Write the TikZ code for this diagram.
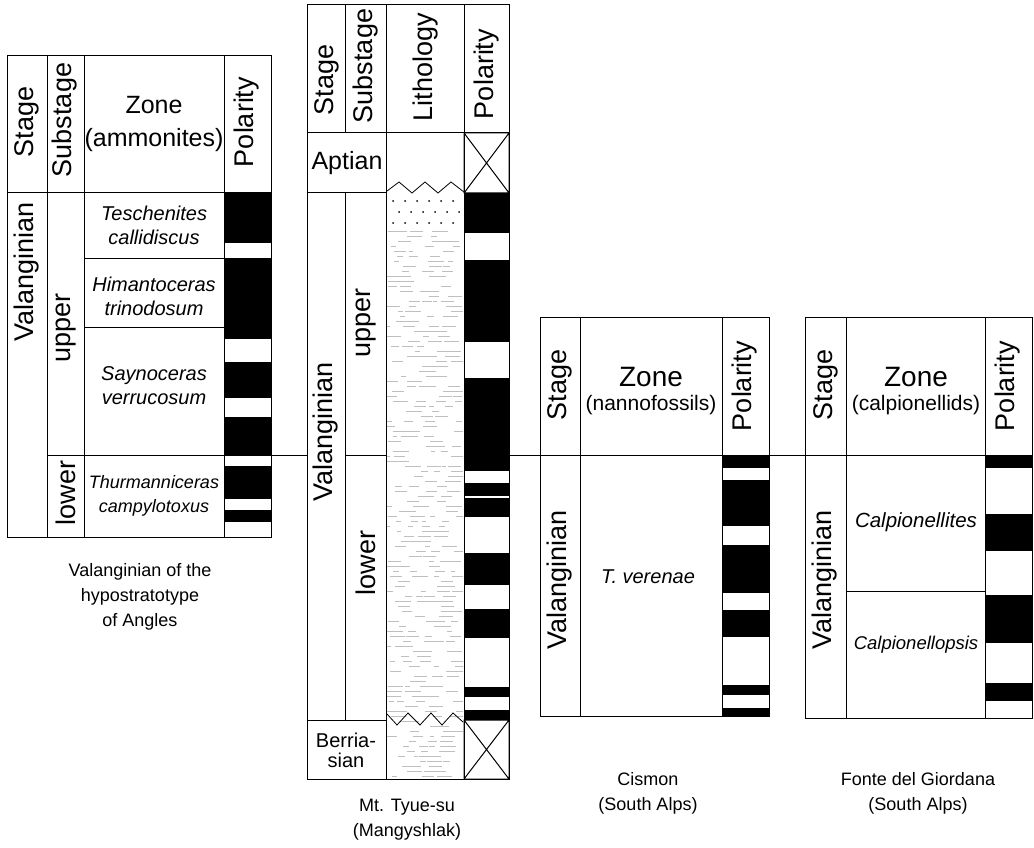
\documentclass[tikz,border=0pt]{standalone}
\usepackage{fontspec}
\setmainfont{Liberation Sans}
\usetikzlibrary{calc}

\begin{document}
\begin{tikzpicture}[x=1pt, y=-1pt,
    rule/.style={line width=1pt},
    vert/.style={font=\fontsize{27}{29}\selectfont, rotate=90, inner sep=0pt},
    zonetxt/.style={font=\fontsize{25}{27}\selectfont, inner sep=0pt},
    zonebig/.style={font=\fontsize{28}{30}\selectfont, inner sep=0pt},
    subtxt/.style={font=\fontsize{21}{23}\selectfont, inner sep=0pt},
    taxon/.style={font=\fontsize{20}{24}\selectfont\itshape, align=center, inner sep=0pt},
    captxt/.style={font=\fontsize{18}{25}\selectfont, align=center, inner sep=0pt},
    shale/.style={gray!50, line width=0.6pt}
]
\useasboundingbox (0,0) rectangle (1034,848);

% --- Angles (hypostratotype)
\foreach \a/\b in {193/243, 258/339, 362/398, 417/455, 466/499, 510/522}
    \fill (224,\a) rectangle (271,\b);
\draw[rule] (7,56) rectangle (271,537);
\draw[rule] (7,193) -- (271,193);
\foreach \x in {47,84,224} \draw[rule] (\x,56) -- (\x,537);
\draw[rule] (84,258) -- (224,258) (84,327) -- (224,327);

\node[vert] (angStage) at (27,122) {Stage};
\node[vert] (angSub) at (65,120) {Substage};
\node[zonetxt] (angZone) at (154,105) {Zone};
\node[zonetxt] (angZoneSub) at (154,140) {(ammonites)};
\node[vert] (angPol) at (247,122) {Polarity};
\node[vert] (angVal) at (27,272) {Valanginian};
\node[vert] (angUpper) at (66,328) {upper};
\node[vert] (angLower) at (66,493) {lower};
\node[taxon] (angTesch) at (154,225) {Teschenites\\callidiscus};
\node[taxon] (angHiman) at (154,296) {Himantoceras\\trinodosum};
\node[taxon] (angSayno) at (154,386) {Saynoceras\\verrucosum};
\node[taxon, font=\fontsize{18}{24}\selectfont\itshape] (angThurm) at (154,496) {Thurmanniceras\\campylotoxus};
\node[captxt] (angCap) at (140,597) {Valanginian of the\\hypostratotype\\of Angles};

% --- Mt. Tyue-su
\begin{scope}
\clip (387,229) rectangle (463,778);
\pgfmathsetseed{11}
\foreach \r in {0,...,109} {
    \foreach \k in {1,...,4} {
        \pgfmathsetmacro\xa{385+rnd*72}
        \pgfmathsetmacro\len{4+rnd*12}
        \draw[shale] (\xa,231+\r*5) -- ++(\len,0);
    }
}
\end{scope}
\foreach \yy/\s in {201/0, 212/6, 223/0}
    \foreach \xx in {393,405,...,457}
        \fill (\xx+\s,\yy) circle (1);
\draw[line width=0.8pt] (387,191) -- (399,182) -- (412,193) -- (425,182) -- (438,193) -- (451,182) -- (464,192);
\draw[line width=0.8pt] (387,714) -- (397,725) -- (408,713) -- (420,725) -- (431,713) -- (442,725) -- (453,713) -- (463,722);

\foreach \a/\b in {193/233, 260/342, 378/471, 483/496, 498/517, 553/585, 609/638, 687/697, 710/720}
    \fill (464,\a) rectangle (509,\b);
\draw[rule] (464,133) rectangle (509,193) (464,133) -- (509,193) (509,133) -- (464,193);
\draw[rule] (464,720) rectangle (509,779) (464,720) -- (509,779) (509,720) -- (464,779);
\draw[rule] (307,5) rectangle (509,779);
\draw[rule] (307,133) -- (509,133) (307,193) -- (386,193) (307,720) -- (386,720);
\draw[rule] (345,5) -- (345,133) (345,193) -- (345,720);
\foreach \x in {386,464} \draw[rule] (\x,5) -- (\x,779);

\node[vert] (tyuStage) at (327,80) {Stage};
\node[vert] (tyuSub) at (366,66) {Substage};
\node[vert] (tyuLith) at (426,67) {Lithology};
\node[vert] (tyuPol) at (487,74) {Polarity};
\node[zonetxt] (tyuApt) at (347,163) {Aptian};
\node[vert] (tyuVal) at (326,432) {Valanginian};
\node[vert] (tyuUpper) at (366,323) {upper};
\node[vert] (tyuLower) at (366,563) {lower};
\node[font=\fontsize{20}{20}\selectfont, align=center, inner sep=0pt] (tyuBer) at (346,750) {Berria-\\sian};
\node[captxt] (tyuCap) at (407,820) {Mt. Tyue-su\\(Mangyshlak)};

% --- Cismon
\foreach \a/\b in {455/468, 480/526, 545/593, 610/637, 685/695, 708/716}
    \fill (722,\a) rectangle (769,\b);
\draw[rule] (540,317) rectangle (769,716);
\foreach \x in {580,722} \draw[rule] (\x,317) -- (\x,716);

\node[vert] (cisStage) at (560,385) {Stage};
\node[zonebig] (cisZone) at (651,377) {Zone};
\node[subtxt] (cisZoneSub) at (651,405) {(nannofossils)};
\node[vert] (cisPol) at (745,386) {Polarity};
\node[vert] (cisVal) at (560,580) {Valanginian};
\node[taxon] (cisTax) at (648,577) {T. verenae};
\node[captxt] (cisCap) at (648,793) {Cismon\\(South Alps)};

% --- Fonte del Giordana
\foreach \a/\b in {455/468, 514/551, 595/643, 683/701}
    \fill (985,\a) rectangle (1032,\b);
\draw[rule] (805,317) rectangle (1032,718);
\foreach \x in {846,985} \draw[rule] (\x,317) -- (\x,718);
\draw[rule] (846,591) -- (985,591);

\node[vert] (fonStage) at (826,385) {Stage};
\node[zonebig] (fonZone) at (916,377) {Zone};
\node[subtxt] (fonZoneSub) at (916,405) {(calpionellids)};
\node[vert] (fonPol) at (1008,386) {Polarity};
\node[vert] (fonVal) at (825,580) {Valanginian};
\node[taxon, font=\fontsize{20.5}{24}\selectfont\itshape] (fonTaxA) at (916,522) {Calpionellites};
\node[taxon, font=\fontsize{18.5}{24}\selectfont\itshape] (fonTaxB) at (916,645) {Calpionellopsis};
\node[captxt] (fonCap) at (918,793) {Fonte del Giordana\\(South Alps)};

% --- upper/lower boundary across the sections
\coordinate (angB) at (47,455);
\coordinate (tyuL) at (307,455);
\coordinate (tyuSubL) at (345,455);
\coordinate (tyuSubR) at (386,455);
\coordinate (tyuR) at (509,455);
\coordinate (fonR) at (1032,455);
\draw[rule] (angB) -- (tyuL) (tyuSubL) -- (tyuSubR) (tyuR) -- (fonR);
\end{tikzpicture}
\end{document}
